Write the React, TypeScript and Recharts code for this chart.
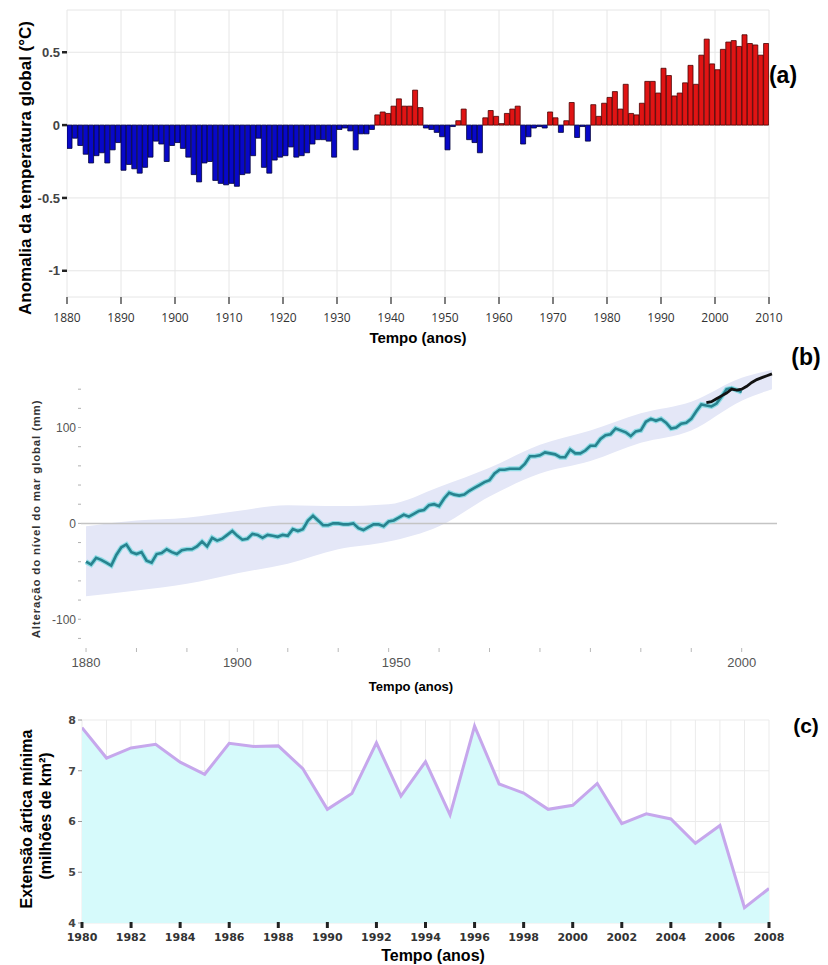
import React from 'react';
import {
  BarChart, Bar, Cell, ComposedChart, Line, Area, XAxis, YAxis, CartesianGrid, ReferenceLine,
} from 'recharts';

// (a) global temperature anomaly, one value per year from 1880
const TEMP_START = 1880;
const TEMP_ANOMALY = [
  -0.16, -0.09, -0.14, -0.2, -0.26, -0.21, -0.19, -0.26, -0.17, -0.12,
  -0.31, -0.27, -0.3, -0.33, -0.29, -0.22, -0.11, -0.13, -0.25, -0.14,
  -0.12, -0.16, -0.22, -0.34, -0.39, -0.26, -0.25, -0.38, -0.4, -0.41,
  -0.4, -0.42, -0.34, -0.33, -0.21, -0.09, -0.29, -0.33, -0.24, -0.22,
  -0.21, -0.15, -0.22, -0.21, -0.19, -0.13, -0.1, -0.1, -0.11, -0.22,
  -0.03, -0.02, -0.04, -0.17, -0.06, -0.06, -0.03, 0.07, 0.09, 0.08,
  0.13, 0.18, 0.13, 0.13, 0.24, 0.12, -0.02, -0.03, -0.05, -0.08,
  -0.17, -0.01, 0.03, 0.11, -0.1, -0.12, -0.19, 0.05, 0.1, 0.06,
  0.01, 0.08, 0.11, 0.13, -0.13, -0.08, -0.02, -0.01, -0.02, 0.09,
  0.05, -0.05, 0.03, 0.155, -0.085, -0.01, -0.11, 0.14, 0.06, 0.15,
  0.19, 0.23, 0.11, 0.28, 0.08, 0.07, 0.15, 0.3, 0.3, 0.22,
  0.39, 0.34, 0.2, 0.22, 0.29, 0.41, 0.28, 0.48, 0.59, 0.42,
  0.38, 0.52, 0.57, 0.58, 0.54, 0.62, 0.56, 0.55, 0.48, 0.56,
];
const TEMP_X_TICKS = [1880, 1890, 1900, 1910, 1920, 1930, 1940, 1950, 1960, 1970, 1980, 1990, 2000, 2010];
const TEMP_Y_TICKS = [-1, -0.5, 0, 0.5];

// (b) sea level change (mm)
const SEA_START = 1870;
const SEA_LEVEL = [
  -40, -43, -36, -38, -41, -44, -33, -25, -22, -30,
  -32, -30, -39, -41, -32, -31, -27, -30, -32, -28,
  -27, -27, -24, -19, -24, -15, -18, -16, -12, -8,
  -13, -17, -16, -11, -12, -15, -12, -13, -14, -12,
  -13, -6, -8, -6, 3, 8, 3, -2, -2, 0,
  0, -1, -1, 0, -5, -7, -4, -1, -1, -3,
  2, 3, 6, 9, 7, 10, 13, 14, 19, 20,
  18, 26, 32, 30, 29, 30, 34, 37, 40, 43,
  45, 52, 56, 56, 57, 57, 57, 62, 70, 70,
  71, 74, 73, 72, 69, 69, 77, 73, 73, 76,
  81, 81, 88, 92, 93, 99, 97, 95, 91, 96,
  97, 106, 109, 107, 109, 105, 99, 100, 104, 105,
  109, 117, 124, 123, 122, 125, 132, 140, 141, 139,
  137,
];
const SAT_START = 1993;
const SAT_LEVEL = [126, 127, 130, 133, 136, 140, 139, 140, 143, 147, 150, 152, 154, 156];
const SEA_BAND_YEARS = [1870, 1880, 1890, 1900, 1910, 1920, 1930, 1940, 1950, 1960, 1970, 1980, 1990, 2000, 2006];
const SEA_BAND_LOW = [-76, -70, -63, -52, -42, -27, -19, -3, 28, 52, 65, 84, 97, 128, 140];
const SEA_BAND_HIGH = [-3, 3, 6, 13, 19, 18, 20, 38, 58, 82, 97, 115, 127, 152, 160];
const SEA_X_TICKS = [1870, 1880, 1890, 1900, 1910, 1920, 1930, 1940, 1950, 1960, 1970, 1980, 1990, 2000];
const SEA_X_LABEL_POS = [1870, 1900, 1931.5, 2000];
const SEA_X_LABEL_TEXT = ['1880', '1900', '1950', '2000'];
const SEA_Y_TICKS = [-120, -100, -80, -60, -40, -20, 0, 20, 40, 60, 80, 100, 120, 140];
const SEA_Y_LABELED = [-100, 0, 100];

// (c) minimum arctic sea ice extent (million km2)
const ICE_YEARS = [
  1980, 1981, 1982, 1983, 1984, 1985, 1986, 1987, 1988, 1989,
  1990, 1991, 1992, 1993, 1994, 1995, 1996, 1997, 1998, 1999,
  2000, 2001, 2002, 2003, 2004, 2005, 2006, 2007, 2008,
];
const ICE_EXTENT = [
  7.85, 7.25, 7.45, 7.52, 7.17, 6.93, 7.54, 7.48, 7.49, 7.04,
  6.24, 6.55, 7.55, 6.5, 7.18, 6.13, 7.88, 6.74, 6.56, 6.24,
  6.32, 6.75, 5.96, 6.15, 6.05, 5.57, 5.92, 4.3, 4.68,
];
const ICE_Y_TICKS = [4, 5, 6, 7, 8];

// bars sit between year and year+1
const tempData = TEMP_ANOMALY.map((v, i) => ({ mid: TEMP_START + i + 0.5, v }));
const seaData = SEA_LEVEL.map((v, i) => ({ year: SEA_START + i, v }));
const satData = SAT_LEVEL.map((v, i) => ({ year: SAT_START + i, v }));
const bandData = SEA_BAND_YEARS.map((year, i) => ({ year, range: [SEA_BAND_LOW[i], SEA_BAND_HIGH[i]] }));
const iceData = ICE_YEARS.map((year, i) => ({ year, ext: ICE_EXTENT[i] }));
const SEA_TICK_ALL = Array.from(new Set([...SEA_X_TICKS, ...SEA_X_LABEL_POS])).sort((a, b) => a - b);

const SANS = '"Liberation Sans", Arial, sans-serif';

const Title = ({ x, y, size, rotate, weight = 700, color = '#000', spacing = 0, children }: any) => (
  <div
    style={{
      position: 'absolute',
      left: x,
      top: y,
      transform: `translate(-50%, -50%)${rotate ? ' rotate(-90deg)' : ''}`,
      fontSize: size,
      fontWeight: weight,
      color,
      letterSpacing: spacing,
      lineHeight: 1,
      whiteSpace: 'nowrap',
      fontFamily: SANS,
    }}
  >
    {children}
  </div>
);

const TempChart = () => (
  <BarChart
    width={828}
    height={350}
    data={tempData}
    margin={{ top: 10, right: 59, left: 17, bottom: 23 }}
    barCategoryGap={0}
    barGap={0}
  >
    <CartesianGrid stroke="#e6e6e6" strokeWidth={1} />
    <XAxis
      dataKey="mid"
      type="number"
      domain={[1880, 2010]}
      allowDataOverflow
      ticks={TEMP_X_TICKS}
      interval={0}
      axisLine={false}
      tickSize={7}
      tickMargin={9}
      height={30}
      tickLine={{ stroke: '#555', strokeWidth: 1.5 }}
      tick={{ fill: '#333', fontSize: 12, fontFamily: '"Open Sans", sans-serif' }}
    />
    <YAxis
      type="number"
      domain={[-1.18, 0.79]}
      allowDataOverflow
      ticks={TEMP_Y_TICKS}
      width={50}
      axisLine={false}
      tickSize={5}
      tickMargin={2}
      tickLine={{ stroke: '#222', strokeWidth: 2.5 }}
      tick={{ fill: '#444', fontSize: 13, fontWeight: 700, fontFamily: SANS }}
    />
    <Bar dataKey="v" strokeWidth={0.8} isAnimationActive={false}>
      {tempData.map((d, i) => (
        <Cell
          key={`t-${i}`}
          fill={d.v >= 0 ? '#e01414' : '#0808c8'}
          stroke={d.v >= 0 ? '#4a0000' : '#00003a'}
        />
      ))}
    </Bar>
  </BarChart>
);

const SeaTick = (props: any) => {
  const { x, y, payload } = props;
  const v = payload.value;
  const li = SEA_X_LABEL_POS.indexOf(v);
  return (
    <g>
      {SEA_X_TICKS.includes(v) && <line x1={x} x2={x} y1={y} y2={y + 4} stroke="#b8b8b8" strokeWidth={1} />}
      {li >= 0 && (
        <text x={x} y={y + 19} textAnchor="middle" fill="#555" fontSize={13} fontFamily={SANS}>
          {SEA_X_LABEL_TEXT[li]}
        </text>
      )}
    </g>
  );
};

const SeaChart = () => (
  <ComposedChart width={828} height={340} margin={{ top: 10, right: 51, left: 30, bottom: 22 }}>
    <XAxis
      dataKey="year"
      type="number"
      domain={[1869, 2007]}
      allowDataOverflow
      ticks={SEA_TICK_ALL}
      interval={0}
      axisLine={false}
      tickLine={false}
      tickSize={0}
      tickMargin={0}
      height={30}
      tick={<SeaTick />}
    />
    <YAxis
      type="number"
      domain={[-130, 160]}
      allowDataOverflow
      ticks={SEA_Y_TICKS}
      tickFormatter={(v: number) => (SEA_Y_LABELED.includes(v) ? String(v) : '')}
      width={51}
      axisLine={false}
      tickSize={3}
      tickMargin={2}
      tickLine={{ stroke: '#b0b0b0', strokeWidth: 1 }}
      tick={{ fill: '#555', fontSize: 12, fontFamily: SANS }}
    />
    <Area
      data={bandData}
      dataKey="range"
      type="monotone"
      stroke="none"
      fill="#e4e7f7"
      fillOpacity={1}
      isAnimationActive={false}
    />
    <ReferenceLine y={0} stroke="#c4c4c4" strokeWidth={1.5} />
    <Line data={seaData} dataKey="v" stroke="#8fdbe5" strokeWidth={5} dot={false} isAnimationActive={false} />
    <Line data={seaData} dataKey="v" stroke="#27838f" strokeWidth={2.6} dot={false} isAnimationActive={false} />
    <Line data={satData} dataKey="v" stroke="#121212" strokeWidth={2.8} dot={false} isAnimationActive={false} />
  </ComposedChart>
);

const IceTick = (props: any) => {
  const { x, y, payload } = props;
  if (payload.value % 2 !== 0) return null;
  return (
    <g>
      <line x1={x} x2={x} y1={y - 1} y2={y + 5} stroke="#222" strokeWidth={3} />
      <text x={x} y={y + 18} textAnchor="middle" fill="#333" fontSize={11} fontWeight={700} fontFamily='"DejaVu Sans", sans-serif'>
        {payload.value}
      </text>
    </g>
  );
};

const IceChart = () => (
  <ComposedChart width={828} height={265} data={iceData} margin={{ top: 20, right: 59, left: 40, bottom: 12 }}>
    <CartesianGrid stroke="#ebebeb" strokeWidth={1} />
    <XAxis
      dataKey="year"
      type="number"
      domain={[1980, 2008]}
      allowDataOverflow
      ticks={ICE_YEARS}
      interval={0}
      axisLine={false}
      tickLine={false}
      tickSize={0}
      tickMargin={0}
      height={30}
      tick={<IceTick />}
    />
    <YAxis
      type="number"
      domain={[4, 8]}
      allowDataOverflow
      ticks={ICE_Y_TICKS}
      width={42}
      axisLine={false}
      tickSize={4}
      tickMargin={2}
      tickLine={{ stroke: '#999', strokeWidth: 1 }}
      tick={{ fill: '#444', fontSize: 11, fontWeight: 700, fontFamily: '"DejaVu Sans", sans-serif' }}
    />
    <Area
      dataKey="ext"
      type="linear"
      stroke="#c6a7ec"
      strokeWidth={3}
      fill="#d6fafb"
      fillOpacity={1}
      isAnimationActive={false}
    />
  </ComposedChart>
);

export default function App() {
  return (
    <div
      style={{
        position: 'absolute',
        left: 0,
        top: 0,
        width: 828,
        height: 965,
        overflow: 'hidden',
        background: '#fff',
        fontFamily: SANS,
      }}
    >
      <div style={{ position: 'absolute', left: 0, top: 0 }}>
        <TempChart />
      </div>
      <div style={{ position: 'absolute', left: 0, top: 360 }}>
        <SeaChart />
      </div>
      <div style={{ position: 'absolute', left: 0, top: 700 }}>
        <IceChart />
      </div>

      <Title x={25} y={168} size={17} rotate>Anomalia da temperatura global (°C)</Title>
      <Title x={418} y={337} size={15}>Tempo (anos)</Title>
      <Title x={783} y={75} size={23}>(a)</Title>

      <Title x={37} y={519} size={11.5} rotate color="#333" spacing={0.8}>
        Alteração do nível do mar global (mm)
      </Title>
      <Title x={411} y={686} size={13}>Tempo (anos)</Title>
      <Title x={806} y={357} size={23}>(b)</Title>

      <Title x={27} y={819} size={16} rotate>Extensão ártica mínima</Title>
      <Title x={46} y={816} size={16} rotate>(milhões de km²)</Title>
      <Title x={433} y={956} size={16}>Tempo (anos)</Title>
      <Title x={806} y={725} size={21}>(c)</Title>
    </div>
  );
}
